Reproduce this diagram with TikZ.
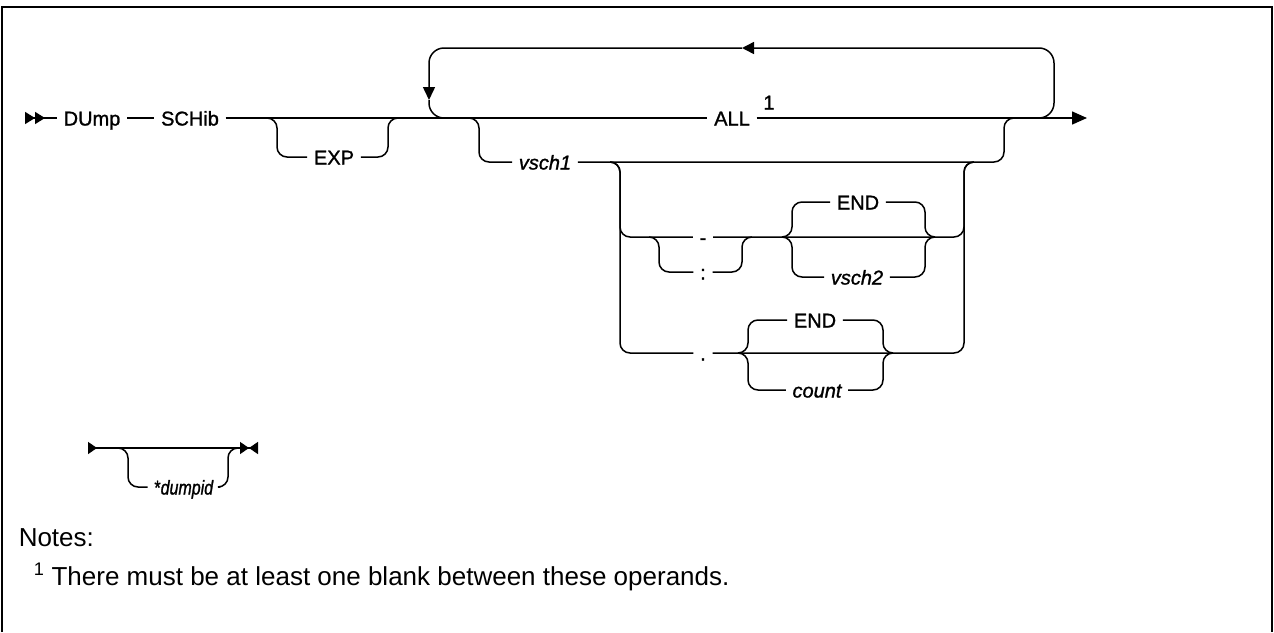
\documentclass[tikz,border=0pt]{standalone}
\usepackage{fontspec}
\setmainfont{Liberation Sans}
\newfontfamily\rdfont[FakeBold=1.2]{Liberation Sans}
\newfontfamily\rdnarrow[FakeStretch=0.8,FakeBold=1.2]{Liberation Sans}
\usetikzlibrary{arrows.meta}

\tikzset{
  rr/.style={rounded corners=10pt},
  kw/.style={anchor=center, inner xsep=6pt, inner ysep=0pt, text height=17pt, text depth=2pt,
    font=\rdfont\fontsize{20}{24}\selectfont},
  var/.style={kw, font=\rdfont\fontsize{20}{24}\selectfont\itshape},
  note/.style={anchor=base west, inner sep=0pt, font=\fontsize{26}{30}\selectfont}
}

\begin{document}
\begin{tikzpicture}[x=1pt, y=-1pt, line width=1.5pt]
        \useasboundingbox (0,0) rectangle (1274,632);
        \draw[line width=2pt] (2,632) -- (2,7) -- (1272,7) -- (1272,632);

        % main line
        \coordinate (begin) at (25,118);
        \coordinate (stop) at (1087,118);
        \node[kw] (dump) at (92,118) {DUmp};
        \node[kw] (schib) at (190,118) {SCHib};
        \node[kw] (all) at (732,118) {ALL};
        \node[kw] (one) at (769,102) {1};
        \draw[{Triangle[reversed,length=10pt,width=12pt]Triangle[reversed,length=10pt,width=12pt]}-] (begin) -- (dump.west);
        \draw (dump.east) -- (schib.west);
        \draw (schib.east) -- (all.west);
        \draw[-{Triangle[length=15pt,width=13pt]}] (all.east) -- (stop);

        % EXP
        \coordinate (e1) at (267,118);
        \coordinate (e2) at (398,118);
        \node[kw] (exp) at (334,157) {EXP};
        \draw[rr] (e1) -- ++(10,0) |- (exp.west);
        \draw[rr] (exp.east) -| ([xshift=-10pt]e2) -- (e2);

        % repeat loop
        \coordinate (l1) at (444,118);
        \coordinate (l2) at (1039,118);
        \coordinate (lt) at (742,48);
        \coordinate (ld) at (429,100);
        \draw[rounded corners=15pt, -{Triangle[length=12pt,width=12pt]}] (l2) -| (1054,48) -- (lt);
        \draw[rounded corners=15pt, -{Triangle[length=13pt,width=12pt]}] (lt) -| (ld);
        \draw[rounded corners=15pt] (ld) |- (l1);

        % vsch1
        \coordinate (v1) at (469,118);
        \coordinate (v2) at (1014,118);
        \node[var] (vsch1) at (545,162) {vsch1};
        \draw[rr] (v1) -- ++(10,0) |- (vsch1.west);
        \draw[rr] (vsch1.east) -| ([xshift=-10pt]v2) -- (v2);

        % range block
        \coordinate (b1) at (610,162);
        \coordinate (b2) at (974,162);
        \node[kw] (dash) at (703,237) {-};
        \node[kw] (colon) at (703,272) {:};
        \node[kw] (dot) at (703,353) {.};
        \draw[rr] (b1) -- ++(10,0) |- (dash.west);
        \draw[rr] (b1) -- ++(10,0) |- (dot.west);
        \draw[rr] (dash.east) -| ([xshift=-10pt]b2) -- (b2);
        \draw[rr] (dot.east) -| ([xshift=-10pt]b2) -- (b2);

        \coordinate (c1) at (649,237);
        \coordinate (c2) at (752,237);
        \draw[rr] (c1) -- ++(10,0) |- (colon.west);
        \draw[rr] (colon.east) -| ([xshift=-10pt]c2) -- (c2);

        \coordinate (g1) at (782,237);
        \coordinate (g2) at (935,237);
        \node[kw] (end1) at (858,202) {END};
        \node[var] (vsch2) at (857,277) {vsch2};
        \draw[rr] (g1) -- ++(10,0) |- (end1.west);
        \draw[rr] (end1.east) -| ([xshift=-10pt]g2) -- (g2);
        \draw[rr] (g1) -- ++(10,0) |- (vsch2.west);
        \draw[rr] (vsch2.east) -| ([xshift=-10pt]g2) -- (g2);

        \coordinate (h1) at (738,353);
        \coordinate (h2) at (893,353);
        \node[kw] (end2) at (815,320) {END};
        \node[var] (count) at (817,390) {count};
        \draw[rr] (h1) -- ++(10,0) |- (end2.west);
        \draw[rr] (end2.east) -| ([xshift=-10pt]h2) -- (h2);
        \draw[rr] (h1) -- ++(10,0) |- (count.west);
        \draw[rr] (count.east) -| ([xshift=-10pt]h2) -- (h2);

        % dump id line
        \coordinate (sbeg) at (88,448);
        \coordinate (send) at (258,448);
        \coordinate (d1) at (118,448);
        \coordinate (d2) at (238,448);
        \node[kw, font=\rdnarrow\fontsize{20}{24}\selectfont] (dumpid) at (184,487) {*\textit{dumpid}};
        \draw[{Triangle[reversed,length=9pt,width=12pt]}-{Triangle[length=9pt,width=12pt]Triangle[reversed,length=9pt,width=12pt]}] (sbeg) -- (send);
        \draw[rr] (d1) -- ++(10,0) |- (dumpid.west);
        \draw[rr] (dumpid.east) -| ([xshift=-10pt]d2) -- (d2);

        % notes
        \node[note] (notes) at (18,546) {Notes:};
        \node[note] (note1) at (33,585) {\textsuperscript{1} There must be at least one blank between these operands.};
\end{tikzpicture}
\end{document}
